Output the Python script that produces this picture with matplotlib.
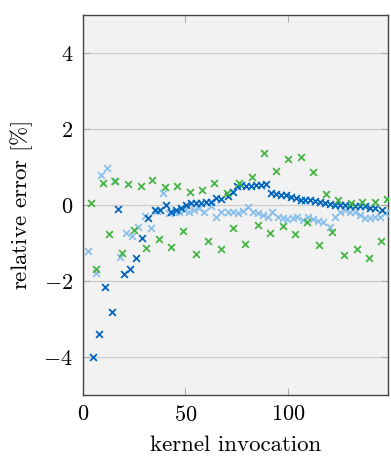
import matplotlib
matplotlib.use("Agg")
from matplotlib import pyplot as plt

plt.rcParams['font.family'] = 'serif'
plt.rcParams['font.serif'] = ['cmr10']
plt.rcParams['mathtext.fontset'] = 'cm'
plt.rcParams['axes.formatter.use_mathtext'] = True

# dark blue series
dark_x = [4.9, 7.8, 10.7, 14.0, 17.1, 19.9, 22.9, 26.0, 28.9, 31.7, 35.0, 37.4,
          40.6, 43.0, 45.5, 47.9, 50.3, 52.8, 55.2, 57.6, 60.0, 62.5, 64.9, 67.6,
          70.7, 73.1, 75.2, 77.2, 79.6, 82.0, 84.5, 86.9, 89.3, 91.7, 94.2, 96.6,
          99.0, 101.5, 103.9, 106.3, 108.6, 111.0, 113.4, 115.9, 118.3, 120.7,
          123.2, 125.6, 128.0, 130.5, 132.9, 135.3, 137.7, 140.1, 142.6, 145.8]
dark_y = [-4.0, -3.39, -2.17, -2.83, -0.11, -1.81, -1.69, -1.40, -0.86, -0.35, -0.13, -0.13,
          0.0, -0.18, -0.13, -0.09, 0.0, 0.04, 0.04, 0.04, 0.09, 0.09, 0.18, 0.15,
          0.24, 0.35, 0.50, 0.53, 0.50, 0.50, 0.53, 0.53, 0.55, 0.31, 0.29, 0.26,
          0.26, 0.22, 0.18, 0.13, 0.13, 0.13, 0.10, 0.09, 0.04, 0.02,
          0.0, 0.0, 0.0, -0.02, -0.02, -0.04, -0.04, -0.07, -0.09, -0.13]

# light blue series
light_x = [2.4, 6.2, 8.9, 11.7, 15.0, 17.9, 20.8, 24.0, 26.8, 30.1, 33.3, 36.0,
           39.0, 42.2, 44.7, 47.1, 49.5, 51.9, 54.4, 56.8, 59.2, 62.5, 64.9, 67.3,
           70.7, 73.1, 75.6, 78.0, 80.4, 82.8, 85.3, 87.7, 90.1, 92.5, 95.0, 97.4,
           99.8, 102.3, 104.7, 107.6, 110.0, 112.4, 114.8, 117.2, 120.5, 123.2,
           125.6, 128.0, 130.5, 132.9, 135.3, 137.7, 140.1, 142.6, 145.0, 147.5]
light_y = [-1.20, -1.78, 0.79, 0.97, 0.64, -1.36, -0.75, -0.83, -0.59, -0.28, -0.61, -0.15,
           0.32, -0.22, -0.18, -0.18, -0.13, -0.18, -0.13, -0.09, -0.18, -0.04, -0.31, -0.18,
           -0.18, -0.18, -0.20, -0.15, -0.06, -0.18, -0.22, -0.26, -0.31, -0.18, -0.31, -0.35,
           -0.37, -0.35, -0.31, -0.40, -0.33, -0.37, -0.42, -0.46, -0.57, -0.31,
           -0.18, -0.13, -0.18, -0.19, -0.26, -0.35, -0.35, -0.31, -0.31, -0.22]

# green series
green_x = [4.0, 6.5, 9.8, 12.9, 15.8, 19.0, 22.0, 25.0, 28.2, 30.8, 33.8, 37.0,
           39.9, 42.9, 45.9, 48.6, 52.1, 55.1, 58.1, 61.1, 63.8, 67.2, 70.1, 73.0,
           76.2, 79.0, 82.3, 85.2, 88.3, 91.2, 94.1, 97.4, 100.1, 103.4, 106.3, 109.1,
           112.3, 115.3, 118.4, 121.3, 124.5, 127.3, 130.6, 133.5, 136.4, 139.5,
           142.4, 145.4, 148.4]
green_y = [0.04, -1.68, 0.57, -0.76, 0.63, -1.27, 0.55, -0.66, 0.49, -1.14, 0.65, -0.90,
           0.46, -1.11, 0.49, -0.68, 0.35, -1.29, 0.39, -0.94, 0.57, -1.17, 0.32, -0.61,
           0.57, -1.03, 0.73, -0.53, 1.38, -0.73, 0.90, -0.55, 1.22, -0.77, 1.27, -0.44,
           0.86, -1.05, 0.29, -0.70, 0.13, -1.32, 0.04, -1.16, 0.09, -1.40,
           0.07, -0.94, 0.15]

y_ticks = [-4, -2, 0, 2, 4]
x_ticks = [0, 50, 100]

fig = plt.figure(figsize=(3.91, 4.58), dpi=100)
ax = fig.add_axes([0.212, 0.138, 0.78, 0.829])
ax.set_facecolor('#f2f2f2')

mk = dict(marker='x', s=24, linewidths=1.3, zorder=3)
ax.scatter(light_x, light_y, color='#8cc0ec', **mk)
ax.scatter(dark_x, dark_y, color='#0065bd', **mk)
ax.scatter(green_x, green_y, color='#44b444', **mk)

ax.set_xlim(0, 148.8)
ax.set_ylim(-5, 5)
ax.set_xticks(x_ticks)
ax.set_yticks(y_ticks)
ax.yaxis.grid(True, color='#cccccc', linewidth=0.9)
ax.set_axisbelow(True)
ax.tick_params(direction='in', length=5, color='#aaaaaa', top=True, right=True,
               labelsize=16, pad=7)
for sp in ax.spines.values():
    sp.set_color('#444444')
    sp.set_linewidth(1.0)

ax.set_xlabel('kernel invocation', fontsize=16.5, labelpad=8)
ax.set_ylabel(r'relative error [$\%$]', fontsize=16.5, labelpad=6)

fig.savefig('out.png', dpi=100)
